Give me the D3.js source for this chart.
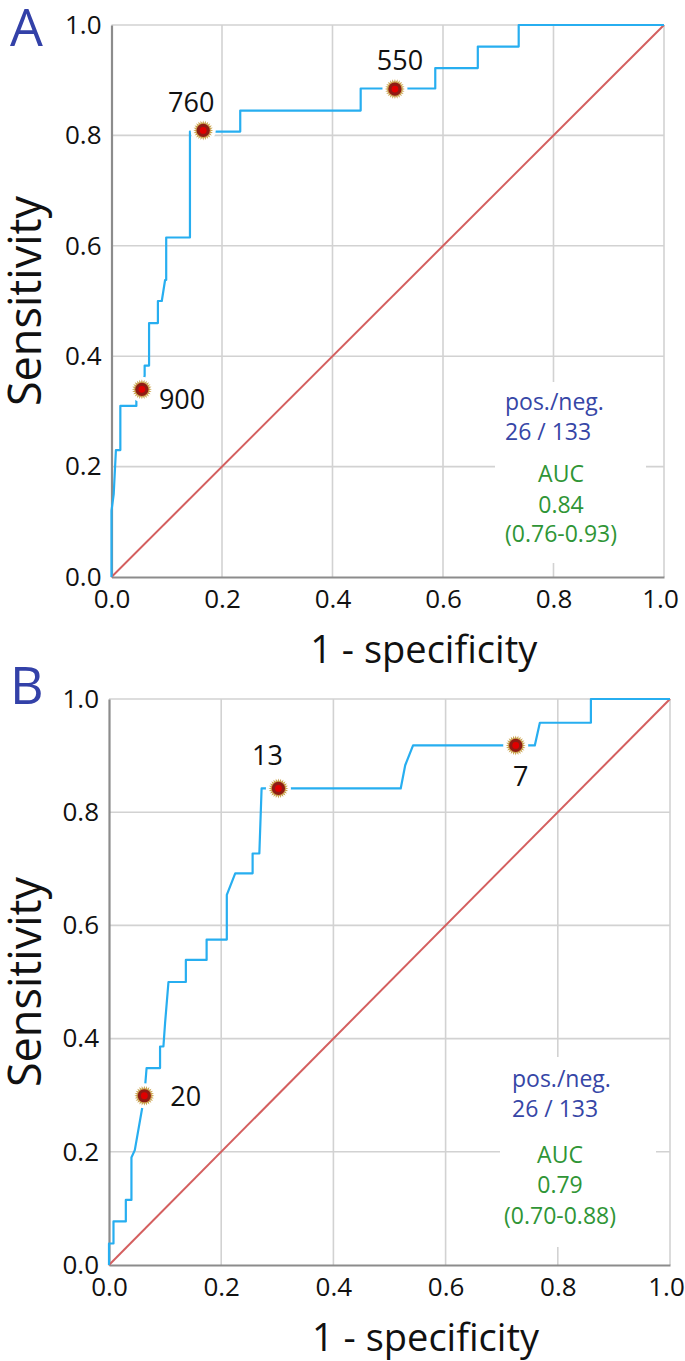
<!DOCTYPE html>
<html><head><meta charset="utf-8">
<script src="https://cdn.jsdelivr.net/npm/d3@7"></script>
<style>
html,body{margin:0;padding:0;background:#fff;}
svg{display:block;font-family:"Open Sans",sans-serif;}
</style></head>
<body>
<svg id="chart" width="685" height="1361"></svg>
<script>
// ---------- data ----------
const tickValues = [0, 0.2, 0.4, 0.6, 0.8, 1.0];
const tickLabels = ["0.0", "0.2", "0.4", "0.6", "0.8", "1.0"];

// Panel A ROC curve
const rocA_fpr = [0, 0, 0.004, 0.008, 0.016, 0.016, 0.045, 0.045, 0.055, 0.060, 0.060, 0.068, 0.068, 0.084, 0.084, 0.091, 0.097, 0.099, 0.099, 0.142, 0.142, 0.166, 0.233, 0.233, 0.451, 0.451, 0.513, 0.586, 0.586, 0.663, 0.663, 0.737, 0.737, 1.0];
const rocA_tpr = [0, 0.12, 0.15, 0.23, 0.23, 0.31, 0.31, 0.33, 0.34, 0.365, 0.383, 0.383, 0.46, 0.46, 0.50, 0.50, 0.538, 0.538, 0.615, 0.615, 0.807, 0.807, 0.807, 0.845, 0.845, 0.885, 0.885, 0.885, 0.922, 0.922, 0.961, 0.961, 1.0, 1.0];
const cutA_labels = ["900", "760", "550"];
const cutA_fpr = [0.055, 0.166, 0.513];
const cutA_tpr = [0.34, 0.809, 0.884];
const statsA = ["pos./neg.", "26 / 133", "AUC", "0.84", "(0.76-0.93)"];

// Panel B ROC curve
const rocB_fpr = [0, 0, 0.008, 0.008, 0.030, 0.030, 0.040, 0.040, 0.046, 0.063, 0.067, 0.067, 0.091, 0.091, 0.097, 0.100, 0.106, 0.106, 0.137, 0.137, 0.174, 0.174, 0.210, 0.210, 0.225, 0.256, 0.256, 0.268, 0.272, 0.302, 0.520, 0.528, 0.542, 0.725, 0.759, 0.768, 0.859, 0.859, 1.0];
const rocB_tpr = [0, 0.038, 0.038, 0.077, 0.077, 0.115, 0.115, 0.19, 0.203, 0.299, 0.348, 0.348, 0.348, 0.386, 0.386, 0.428, 0.50, 0.50, 0.50, 0.539, 0.539, 0.575, 0.575, 0.654, 0.692, 0.692, 0.727, 0.727, 0.842, 0.842, 0.842, 0.883, 0.918, 0.918, 0.918, 0.958, 0.958, 1.0, 1.0];
const cutB_labels = ["20", "13", "7"];
const cutB_fpr = [0.063, 0.302, 0.725];
const cutB_tpr = [0.299, 0.842, 0.918];
const statsB = ["pos./neg.", "26 / 133", "AUC", "0.79", "(0.70-0.88)"];

const axisTitleX = "1 - specificity";
const axisTitleY = "Sensitivity";

// ---------- drawing ----------
const svg = d3.select("#chart");

const panels = [
  { letter: "A", fpr: rocA_fpr, tpr: rocA_tpr, cutLabels: cutA_labels, cutFpr: cutA_fpr, cutTpr: cutA_tpr, stats: statsA,
    x0: 111.5, x1: 664, y0: 577, y1: 25, letterY: 46,
    labelPos: [{dx: 17, dy: 20, anchor: "start"}, {dx: -12, dy: -18, anchor: "middle"}, {dx: 5, dy: -19, anchor: "middle"}],
    box: [495, 382, 151, 181], statsX: 505, statsCX: 561, statsY: [410, 440, 482, 513, 542] },
  { letter: "B", fpr: rocB_fpr, tpr: rocB_tpr, cutLabels: cutB_labels, cutFpr: cutB_fpr, cutTpr: cutB_tpr, stats: statsB,
    x0: 109, x1: 670, y0: 1265, y1: 699, letterY: 704,
    labelPos: [{dx: 26, dy: 10, anchor: "start"}, {dx: -11, dy: -23, anchor: "middle"}, {dx: 5, dy: 41, anchor: "middle"}],
    box: [500, 1057, 156, 190], statsX: 512, statsCX: 560, statsY: [1087, 1117, 1163, 1193, 1224] }
];

const starPts = [];
for (let i = 0; i < 48; i++) {
  starPts.push([i * Math.PI * 2 / 48, i % 2 === 0 ? 10 : 7.2]);
}
const starPath = d3.lineRadial().curve(d3.curveLinearClosed)(starPts);

panels.forEach(p => {
  const x = d3.scaleLinear().domain([0, 1]).range([p.x0, p.x1]);
  const y = d3.scaleLinear().domain([0, 1]).range([p.y0, p.y1]);
  const g = svg.append("g");

  // grid
  g.append("g").selectAll("line.gx").data(tickValues.slice(1)).join("line")
    .attr("x1", d => x(d)).attr("x2", d => x(d)).attr("y1", y(0)).attr("y2", y(1))
    .attr("stroke", "#d2d2d2").attr("stroke-width", 1.6);
  g.append("g").selectAll("line.gy").data(tickValues.slice(1)).join("line")
    .attr("x1", x(0)).attr("x2", x(1)).attr("y1", d => y(d)).attr("y2", d => y(d))
    .attr("stroke", "#d2d2d2").attr("stroke-width", 1.6);

  // white box behind stats
  g.append("rect").attr("x", p.box[0]).attr("y", p.box[1]).attr("width", p.box[2]).attr("height", p.box[3]).attr("fill", "#fff");

  // axes (left & bottom)
  const xAxis = d3.axisBottom(x).tickValues(tickValues).tickFormat((d, i) => tickLabels[i]).tickSize(0).tickPadding(13);
  const yAxis = d3.axisLeft(y).tickValues(tickValues).tickFormat((d, i) => tickLabels[i]).tickSize(0).tickPadding(10);
  const gx = g.append("g").attr("transform", `translate(0,${y(0)})`).call(xAxis);
  const gy = g.append("g").attr("transform", `translate(${x(0)},0)`).call(yAxis);
  [gx, gy].forEach(a => {
    a.select(".domain").attr("stroke", "#8c8c8c").attr("stroke-width", 2.2);
    a.selectAll("text").attr("font-size", 26).attr("fill", "#111").attr("font-family", "'Open Sans',sans-serif");
  });
  // keep the last x label inside the picture
  gx.selectAll(".tick text").filter(d => d === 1).attr("dx", -4);

  // diagonal
  g.append("line").attr("x1", x(0)).attr("y1", y(0)).attr("x2", x(1)).attr("y2", y(1))
    .attr("stroke", "#d45f5f").attr("stroke-width", 2);

  // ROC curve
  const pts = p.fpr.map((f, i) => [f, p.tpr[i]]);
  g.append("path").attr("d", d3.line().x(d => x(d[0])).y(d => y(d[1]))(pts))
    .attr("fill", "none").attr("stroke", "#27aef0").attr("stroke-width", 2.2).attr("stroke-linejoin", "round");

  // cutoff markers
  p.cutLabels.forEach((lab, i) => {
    const cx = x(p.cutFpr[i]), cy = y(p.cutTpr[i]);
    g.append("circle").attr("cx", cx).attr("cy", cy).attr("r", 12.5).attr("fill", "#fff");
    g.append("path").attr("d", starPath).attr("transform", `translate(${cx},${cy})`).attr("fill", "#caa24e");
    g.append("circle").attr("cx", cx).attr("cy", cy).attr("r", 6.6).attr("fill", "#8e1c14");
    g.append("circle").attr("cx", cx).attr("cy", cy).attr("r", 3.4).attr("fill", "#e00000");
    const lp = p.labelPos[i];
    g.append("text").attr("x", cx + lp.dx).attr("y", cy + lp.dy).attr("text-anchor", lp.anchor)
      .attr("font-size", 27).attr("fill", "#111").text(lab);
  });

  // stats text
  g.append("text").attr("x", p.statsX).attr("y", p.statsY[0]).attr("font-size", 23).attr("fill", "#3646a6").text(p.stats[0]);
  g.append("text").attr("x", p.statsX).attr("y", p.statsY[1]).attr("font-size", 23).attr("fill", "#3646a6").text(p.stats[1]);
  [2, 3, 4].forEach(k => {
    g.append("text").attr("x", p.statsCX).attr("y", p.statsY[k]).attr("text-anchor", "middle")
      .attr("font-size", 23).attr("fill", "#2f9536").text(p.stats[k]);
  });

  // axis titles
  g.append("text").attr("x", (p.x0 + p.x1) / 2 + 36).attr("y", p.y0 + 86).attr("text-anchor", "middle")
    .attr("font-size", 38).attr("fill", "#111").text(axisTitleX);
  g.append("text").attr("transform", `translate(41,${(p.y0 + p.y1) / 2}) rotate(-90)`).attr("text-anchor", "middle")
    .attr("font-size", 45).attr("fill", "#111").text(axisTitleY);

  // panel letter
  g.append("text").attr("x", 10).attr("y", p.letterY).attr("font-size", 52).attr("fill", "#3341a8").text(p.letter);
});
</script>
</body></html>
